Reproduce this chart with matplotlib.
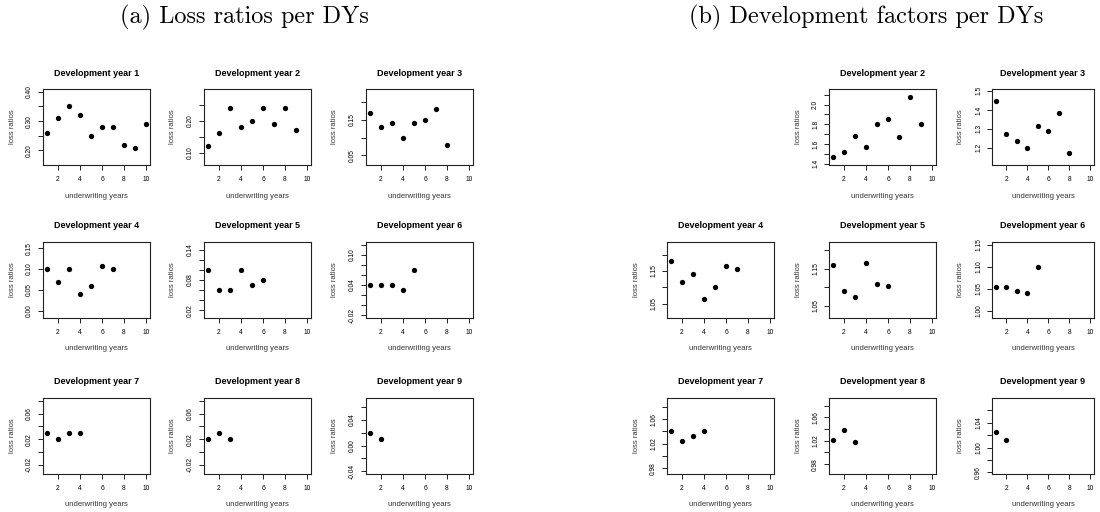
import numpy as np
import matplotlib
matplotlib.use('Agg')
import matplotlib.pyplot as plt

# loss ratios per development year, one value per underwriting year 1, 2, ...
lr_dy1 = [0.26, 0.31, 0.35, 0.32, 0.25, 0.28, 0.28, 0.22, 0.21, 0.29]
lr_dy2 = [0.12, 0.16, 0.24, 0.18, 0.20, 0.24, 0.19, 0.24, 0.17]
lr_dy3 = [0.17, 0.13, 0.14, 0.10, 0.14, 0.15, 0.18, 0.08]
lr_dy4 = [0.10, 0.07, 0.10, 0.04, 0.06, 0.108, 0.10]
lr_dy5 = [0.10, 0.06, 0.06, 0.10, 0.07, 0.08]
lr_dy6 = [0.04, 0.04, 0.04, 0.03, 0.07]
lr_dy7 = [0.03, 0.02, 0.03, 0.03]
lr_dy8 = [0.02, 0.03, 0.02]
lr_dy9 = [0.02, 0.01]

# development factors (none for the first development year)
df_dy2 = [1.465, 1.52, 1.685, 1.565, 1.80, 1.855, 1.675, 2.08, 1.805]
df_dy3 = [1.445, 1.275, 1.235, 1.20, 1.315, 1.29, 1.385, 1.175]
df_dy4 = [1.18, 1.115, 1.14, 1.065, 1.10, 1.165, 1.155]
df_dy5 = [1.16, 1.09, 1.075, 1.165, 1.11, 1.105]
df_dy6 = [1.055, 1.055, 1.045, 1.04, 1.10]
df_dy7 = [1.04, 1.025, 1.033, 1.04]
df_dy8 = [1.022, 1.038, 1.018]
df_dy9 = [1.025, 1.012]

loss_ratios = [lr_dy1, lr_dy2, lr_dy3, lr_dy4, lr_dy5, lr_dy6, lr_dy7, lr_dy8, lr_dy9]
dev_factors = [None, df_dy2, df_dy3, df_dy4, df_dy5, df_dy6, df_dy7, df_dy8, df_dy9]
uw_years = np.arange(1, 11)

plt.rcParams['font.family'] = ['Liberation Sans', 'DejaVu Sans']

FIG_W, FIG_H = 1100, 512
W, H = 107, 76
rows_top = [89, 242, 398]
left_cols = [43, 204, 366]
right_cols = [667, 829, 992]
right_widths = [107, 107, 102]


def pretty_step(lo, hi, n=5, h=0.8, h5=1.7):
    # same rule R uses to pick axis tick spacing
    cell = (hi - lo) / n
    U = 10 ** np.floor(np.log10(cell))
    unit = U
    if 2 * U - cell < h * (cell - unit):
        unit = 2 * U
        if 5 * U - cell < h5 * (cell - unit):
            unit = 5 * U
            if 10 * U - cell < h * (cell - unit):
                unit = 10 * U
    return unit


def ticks_for(lo, hi):
    step = pretty_step(lo, hi)
    first = np.ceil(lo / step - 1e-7)
    last = np.floor(hi / step + 1e-7)
    ticks = np.arange(first, last + 1) * step + 0.0
    dec = int(max(0, -np.floor(np.log10(step) + 1e-9)))
    return ticks, ['%.*f' % (dec, round(t, dec) + 0.0) for t in ticks]


def draw_panel(fig, left, top, width, dy, values):
    ax = fig.add_axes([left / FIG_W, 1 - (top + H) / FIG_H, width / FIG_W, H / FIG_H])
    x = uw_years[:len(values)]
    ax.plot(x, values, 'o', color='black', markersize=3.8, markeredgewidth=0)

    ax.set_xlim(1 - 0.04 * 9, 10 + 0.04 * 9)
    lo, hi = min(values) - 0.05, max(values) + 0.05
    pad = 0.04 * (hi - lo)
    ax.set_ylim(lo - pad, hi + pad)

    xt, xl = ticks_for(*ax.get_xlim())
    ax.set_xticks(xt, labels=xl)
    yt, yl = ticks_for(*ax.get_ylim())
    ax.set_yticks(yt, labels=yl)

    ax.tick_params(length=3.5, width=0.7, color='#222222', labelsize=4.8, direction='out')
    ax.tick_params(axis='x', pad=4.2)
    ax.tick_params(axis='y', pad=3.6)
    for lab in ax.get_yticklabels():
        lab.set_rotation(90)
        lab.set_va('center')
    for sp in ax.spines.values():
        sp.set_linewidth(0.8)
        sp.set_color('#222222')

    ax.text(0.5, 1 + 16 / H, 'Development year %d' % dy, transform=ax.transAxes,
            ha='center', va='center', fontsize=6.5, fontweight='bold')
    ax.text(0.5, -31 / H, 'underwriting years', transform=ax.transAxes,
            ha='center', va='center', fontsize=5.5, color='#333333')
    ax.text(-31 / width, 0.5, 'loss ratios', transform=ax.transAxes, rotation=90,
            ha='center', va='center', fontsize=5.5, color='#333333')
    return ax


fig = plt.figure(figsize=(FIG_W / 100, FIG_H / 100), dpi=100)

panels = []
for i, vals in enumerate(loss_ratios):
    r, c = divmod(i, 3)
    panels.append(draw_panel(fig, left_cols[c], rows_top[r], W, i + 1, vals))

for i, vals in enumerate(dev_factors):
    if vals is None:
        continue
    r, c = divmod(i, 3)
    panels.append(draw_panel(fig, right_cols[c], rows_top[r], right_widths[c], i + 1, vals))

fig.text(244 / FIG_W, 1 - 17 / FIG_H, '(a) Loss ratios per DYs', fontfamily='cmr10',
         fontsize=17.5, ha='center', va='center')
fig.text(866 / FIG_W, 1 - 17 / FIG_H, '(b) Development factors per DYs', fontfamily='cmr10',
         fontsize=17.5, ha='center', va='center')

# drop y tick labels that would run into the previous one, like R does
fig.canvas.draw()
renderer = fig.canvas.get_renderer()
gap = 7.5
for ax in panels:
    labels = ax.get_yticklabels()
    last_top = -np.inf
    shown = []
    for lab in labels:
        bb = lab.get_window_extent(renderer)
        if bb.y0 < last_top + gap:
            shown.append('')
        else:
            shown.append(lab.get_text())
            last_top = bb.y1
    ax.set_yticks(ax.get_yticks(), labels=shown)
    for lab in ax.get_yticklabels():
        lab.set_rotation(90)
        lab.set_va('center')

fig.savefig('out.png', dpi=100)
